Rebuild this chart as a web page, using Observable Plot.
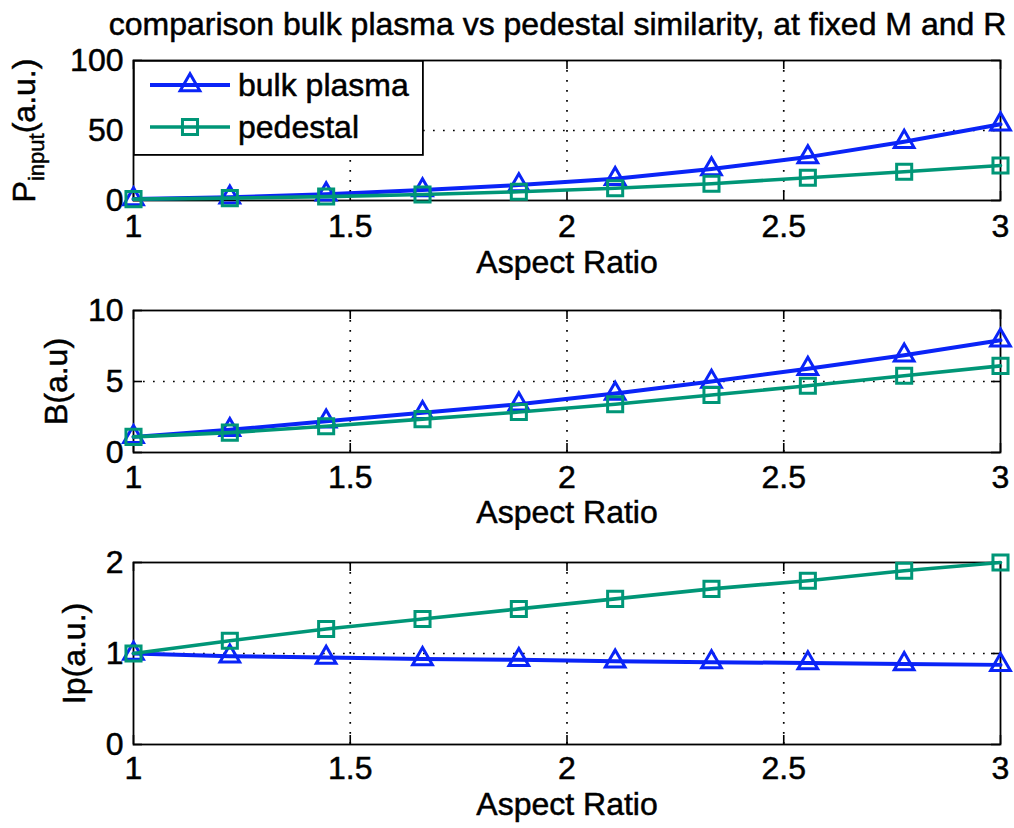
<!DOCTYPE html>
<html><head><meta charset="utf-8">
<script src="https://cdn.jsdelivr.net/npm/d3@7"></script>
<script src="https://cdn.jsdelivr.net/npm/@observablehq/plot@0.6"></script>
<style>
body{margin:0;background:#fff;}
#fig{position:relative;width:1014px;height:828px;font-family:"Liberation Sans",Arial,sans-serif;background:#fff;overflow:hidden;}
.panel{position:absolute;left:0;z-index:1;}
#title{position:absolute;top:8px;left:0;width:1115px;text-align:center;font-size:32px;line-height:32px;color:#000;white-space:nowrap;z-index:5;-webkit-text-stroke:0.5px #000;}
#legend{position:absolute;left:133px;top:60px;z-index:5;}
svg text{paint-order:stroke;}
</style></head><body>
<div id="fig"><div id="title"></div></div>
<script>
// ---- data ----
const aspectRatio = [1, 1.2222, 1.4444, 1.6667, 1.8889, 2.1111, 2.3333, 2.5556, 2.7778, 3];
const pInputBulk = [1, 2.3, 4.5, 7.5, 11, 15.5, 22.5, 31, 42, 54.5];
const pInputPedestal = [1, 1.7, 2.8, 4.3, 6.2, 8.7, 12, 16.3, 20.5, 25];
const bBulk = [1.1, 1.6, 2.2, 2.8, 3.4, 4.15, 5.0, 5.9, 6.85, 7.9];
const bPedestal = [1.1, 1.4, 1.85, 2.35, 2.85, 3.4, 4.05, 4.7, 5.4, 6.1];
const ipBulk = [1, 0.97, 0.955, 0.94, 0.93, 0.915, 0.905, 0.895, 0.885, 0.875];
const ipPedestal = [1, 1.14, 1.27, 1.38, 1.49, 1.6, 1.71, 1.8, 1.91, 2.0];
const xTicks = [1, 1.5, 2, 2.5, 3];
const pTicks = [0, 50, 100];
const bTicks = [0, 5, 10];
const ipTicks = [0, 1, 2];
const seriesNames = ["bulk plasma", "pedestal"];
const xLabel = "Aspect Ratio";
const yLabels = ["P_input(a.u.)", "B(a.u)", "Ip(a.u.)"];
const titleText = "comparison bulk plasma vs pedestal similarity, at fixed M and R";

const BLUE = "#0a24f7";
const TEAL = "#009677";
const FONT = "Liberation Sans, Arial, sans-serif";
const FS = 32;
const W = 1014, ML = 133, MR = 14;

document.getElementById("title").textContent = titleText;

function panel({top, height, marginTop, marginBottom, yTicks, yLabel, bulk, ped, labelOffsetY, labelOffsetX, tickPadX}) {
  const rows = aspectRatio.map((a, i) => ({a, bulk: bulk[i], ped: ped[i]}));
  const innerH = height - marginTop - marginBottom;
  const innerW = W - ML - MR;
  const T = 9;
  const grid = {stroke: "black", strokeOpacity: 1, strokeWidth: 1.7, strokeDasharray: "1.7 8.3"};
  const tk = {stroke: "black", strokeWidth: 1.6};
  const chart = Plot.plot({
    width: W, height, marginLeft: ML, marginRight: MR, marginTop, marginBottom,
    style: {fontFamily: FONT, fontSize: FS + "px", color: "black", background: "white", overflow: "visible"},
    x: {domain: [xTicks[0], xTicks[xTicks.length - 1]]},
    y: {domain: [yTicks[0], yTicks[yTicks.length - 1]]},
    marks: [
      Plot.gridX(xTicks.slice(1, -1), grid),
      Plot.gridY(yTicks.slice(1, -1), grid),
      Plot.tickX(xTicks, {...tk, insetTop: innerH - T}),
      Plot.tickX(xTicks, {...tk, insetBottom: innerH - T}),
      Plot.tickY(yTicks, {...tk, insetRight: innerW - T}),
      Plot.tickY(yTicks, {...tk, insetLeft: innerW - T}),
      Plot.frame({stroke: "black", strokeWidth: 1.8}),
      Plot.axisX(xTicks, {tickSize: 0, tickPadding: tickPadX, fontSize: FS, stroke: "black", strokeWidth: 0.5, label: xLabel, labelAnchor: "center", labelArrow: "none", labelOffset: labelOffsetX, tickFormat: d => String(d)}),
      Plot.axisY(yTicks, {tickSize: 0, tickPadding: 10, fontSize: FS, stroke: "black", strokeWidth: 0.5, label: yLabel, labelAnchor: "center", labelArrow: "none", labelOffset: labelOffsetY, tickFormat: d => String(d)}),
      Plot.line(rows, {x: "a", y: "bulk", stroke: BLUE, strokeWidth: 4}),
      Plot.dot(rows, {x: "a", y: "bulk", symbol: "triangle", r: 7.3, stroke: BLUE, strokeWidth: 3, fill: "none"}),
      Plot.line(rows, {x: "a", y: "ped", stroke: TEAL, strokeWidth: 3.6}),
      Plot.dot(rows, {x: "a", y: "ped", symbol: "square", r: 8.5, stroke: TEAL, strokeWidth: 3, fill: "none"})
    ]
  });
  d3.select(chart).selectAll('g[aria-label$="label"] text').attr("stroke", "black").attr("stroke-width", 0.5);
  const div = document.createElement("div");
  div.className = "panel";
  div.style.top = top + "px";
  div.appendChild(chart);
  document.getElementById("fig").appendChild(div);
  return chart;
}

const c1 = panel({top: 0, height: 280, marginTop: 60, marginBottom: 80, yTicks: pTicks, yLabel: yLabels[0], bulk: pInputBulk, ped: pInputPedestal, labelOffsetY: 121, labelOffsetX: 72, tickPadX: 14});
panel({top: 280, height: 250, marginTop: 30, marginBottom: 78, yTicks: bTicks, yLabel: yLabels[1], bulk: bBulk, ped: bPedestal, labelOffsetY: 89, labelOffsetX: 70, tickPadX: 13});
panel({top: 530, height: 298, marginTop: 32, marginBottom: 84, yTicks: ipTicks, yLabel: yLabels[2], bulk: ipBulk, ped: ipPedestal, labelOffsetY: 71, labelOffsetX: 70, tickPadX: 12});

// subscript for P_input label
d3.select(c1).selectAll("text").each(function() {
  const t = d3.select(this);
  if (t.text() === yLabels[0]) {
    const parts = yLabels[0].match(/^(\w)_(\w+)(.*)$/);
    const tspans = t.selectAll("tspan");
    const host = tspans.empty() ? t : d3.select(tspans.node());
    host.text(null);
    host.append("tspan").text(parts[1]);
    host.append("tspan").attr("dy", "9").attr("font-size", "22").text(parts[2]);
    host.append("tspan").attr("dy", "-9").text(parts[3]);
  }
});

// legend
const lg = d3.select("#fig").append("svg").attr("id", "legend")
  .attr("width", 291).attr("height", 96).style("overflow", "visible");
lg.append("rect").attr("x", 0.9).attr("y", 0.9).attr("width", 289).attr("height", 94)
  .attr("fill", "white").attr("stroke", "black").attr("stroke-width", 1.8);
const entries = [
  {name: seriesNames[0], color: BLUE, sym: d3.symbolTriangle, r: 7.3, y: 25, w: 4},
  {name: seriesNames[1], color: TEAL, sym: d3.symbolSquare, r: 8.5, y: 67, w: 3.6}
];
entries.forEach(e => {
  lg.append("line").attr("x1", 17).attr("x2", 97).attr("y1", e.y).attr("y2", e.y)
    .attr("stroke", e.color).attr("stroke-width", e.w);
  lg.append("path").attr("d", d3.symbol(e.sym, e.r * e.r * Math.PI)())
    .attr("transform", `translate(57,${e.y})`).attr("fill", "none")
    .attr("stroke", e.color).attr("stroke-width", 3);
  lg.append("text").attr("x", 105).attr("y", e.y + 11).attr("font-size", FS)
    .attr("font-family", FONT).attr("fill", "black").attr("stroke", "black").attr("stroke-width", 0.5).text(e.name);
});
</script>
</body></html>
